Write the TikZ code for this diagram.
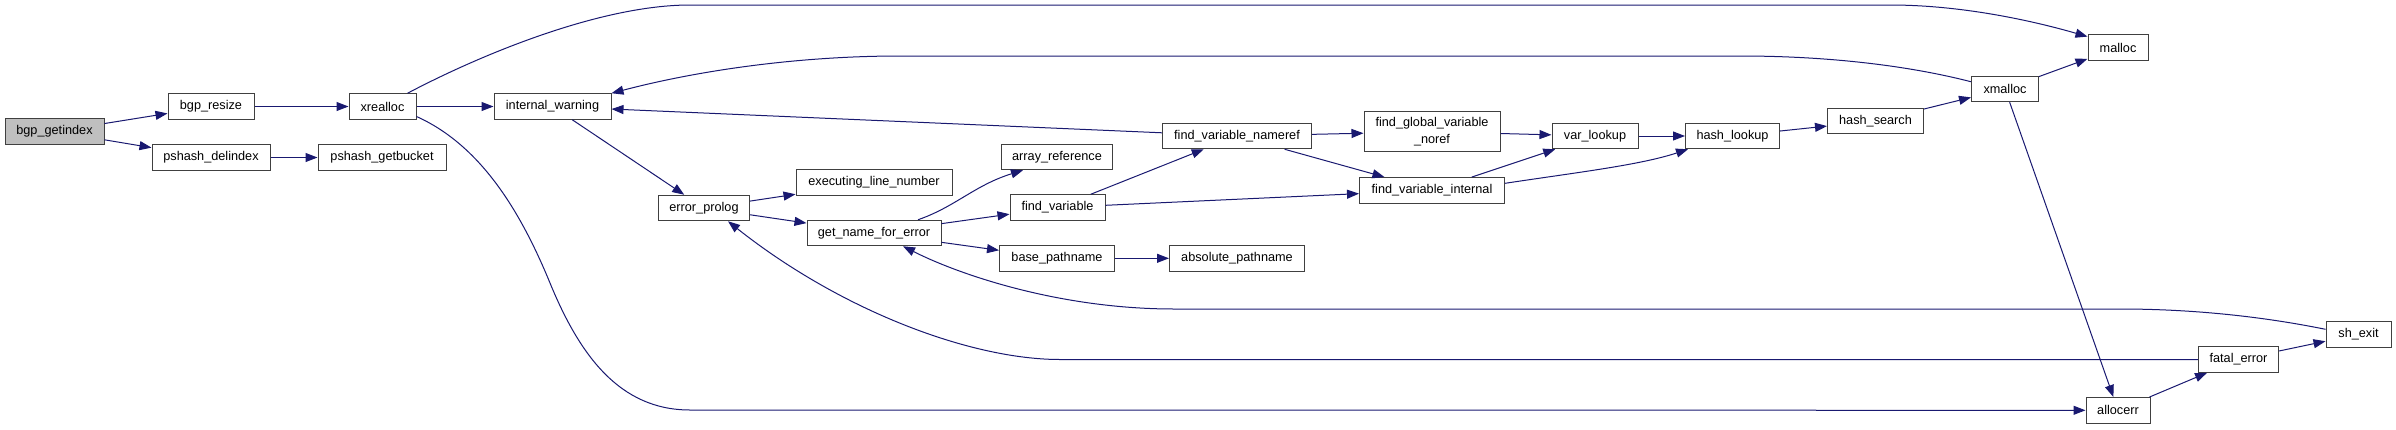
\documentclass[tikz,border=0pt]{standalone}
\usepackage{fontspec}
\setmainfont{Liberation Sans}
\usetikzlibrary{arrows.meta}
\definecolor{callblue}{RGB}{25,25,112}
\definecolor{boxline}{RGB}{64,64,64}
\definecolor{rootgray}{RGB}{191,191,191}

\begin{document}
\begin{tikzpicture}[x=1pt,y=-1pt,
    fn/.style={draw=boxline,line width=1pt,inner sep=0pt,minimum height=25.5pt,
      font=\fontsize{12.7}{16.5}\selectfont},
    call/.style={draw=callblue,line width=1pt,-{Triangle[length=12pt,width=9pt]}}]
  \useasboundingbox (0,0) rectangle (2396,429);
  % functions
  \foreach \n/\x/\y/\w/\c/\t in {
      getindex/54.5/131.5/99/rootgray/bgp\_getindex,
      resize/211/106.5/86/white/bgp\_resize,
      delindex/211/157.5/118/white/pshash\_delindex,
      getbucket/382/157.5/128/white/pshash\_getbucket,
      xrealloc/382.5/106.5/67/white/xrealloc,
      iwarn/552.5/106.5/117/white/internal\_warning,
      eprolog/704/208/91/white/error\_prolog,
      execline/874/182.5/156/white/executing\_line\_number,
      getname/874/233/134/white/get\_name\_for\_error,
      arrayref/1057/157/111/white/array\_reference,
      findvar/1057.5/207.5/95/white/find\_variable,
      basepath/1057/258.3/115/white/base\_pathname,
      abspath/1237/258.3/135/white/absolute\_pathname,
      nameref/1237/136/149/white/find\_variable\_nameref,
      varinternal/1432/190.3/145/white/find\_variable\_internal,
      varlookup/1595/136/86/white/var\_lookup,
      hlookup/1732.5/136/94/white/hash\_lookup,
      hsearch/1875.5/121/96/white/hash\_search,
      xmalloc/2005/89/67/white/xmalloc,
      malloc/2118/47.7/60/white/malloc,
      allocerr/2118/410.3/64/white/allocerr,
      fatalerr/2238.5/359.5/80/white/fatal\_error,
      shexit/2358.5/334.3/65/white/sh\_exit}
  {
    \node[fn,fill=\c,minimum width=\w pt] (\n) at (\x,\y) {\t};
  }
  \node[fn,fill=white,minimum width=136pt,minimum height=40pt,align=center]
    (globalnoref) at (1432,131.7) {find\_global\_variable\\\_noref};
  % straight calls
  \foreach \a/\b in {getindex/resize,getindex/delindex,delindex/getbucket,
      resize/xrealloc,xrealloc/iwarn,nameref/iwarn,iwarn/eprolog,
      eprolog/execline,eprolog/getname,getname/findvar,getname/basepath,
      basepath/abspath,findvar/nameref,findvar/varinternal,nameref/globalnoref,
      nameref/varinternal,globalnoref/varlookup,varinternal/varlookup,
      varlookup/hlookup,hlookup/hsearch,hsearch/xmalloc,xmalloc/malloc,
      xmalloc/allocerr,allocerr/fatalerr,fatalerr/shexit}
    \draw[call] (\a) -- (\b);
  % curved calls
  \draw[call] ([xshift=-9pt]xrealloc.north east) .. controls (480,55) and (600,5) .. (690,5)
    -- (1890,5) .. controls (1960,5) and (2030,20) .. (malloc.160);
  \draw[call] ([yshift=-6pt]xmalloc.north west) .. controls (1910,66) and (1830,56) .. (1740,56)
    -- (900,56) .. controls (800,56) and (700,70) .. (iwarn.north east);
  \draw[call] ([yshift=-10pt]xrealloc.east) .. controls (480,145) and (520,210) .. (550,283)
    .. controls (580,356) and (620,410) .. (690,410) -- (allocerr.west);
  \draw[call] (fatalerr.west) -- (1060,359.5) .. controls (970,359.5) and (840,310) .. ([xshift=24pt]eprolog.south);
  \draw[call] ([yshift=5pt]shexit.west) .. controls (2260,316) and (2190,309) .. (2120,309)
    -- (1174,309) .. controls (1060,309) and (960,275) .. ([xshift=29pt]getname.south);
  \draw[call] ([xshift=44pt]getname.north) .. controls (955,207) and (975,185) .. ([xshift=-34pt]arrayref.south);
  \draw[call] ([yshift=7pt]varinternal.east) .. controls (1580,172) and (1640,165) .. ([xshift=3pt]hlookup.south west);
\end{tikzpicture}
\end{document}
